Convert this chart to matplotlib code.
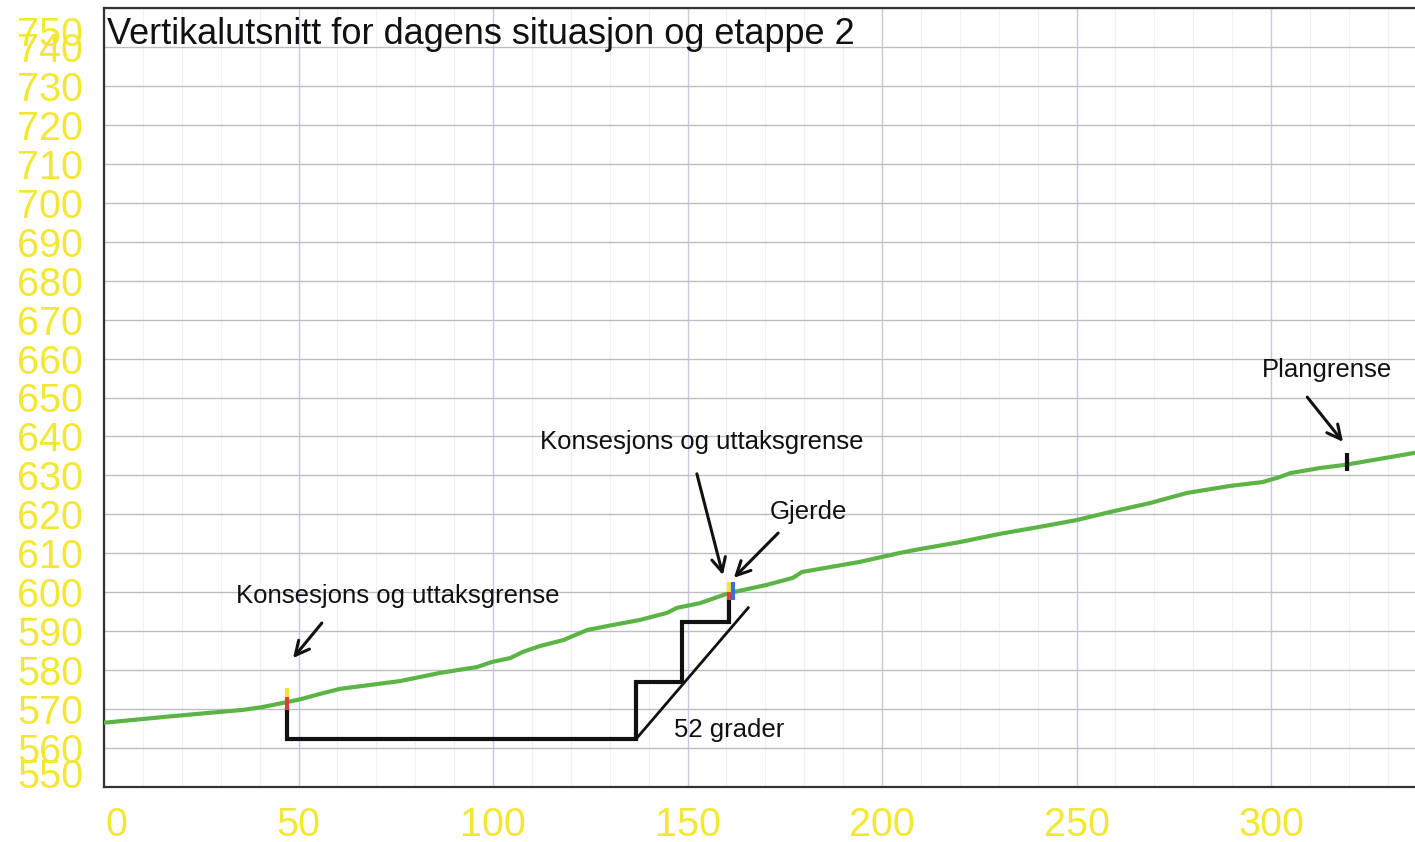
import matplotlib
matplotlib.use("Agg")
import matplotlib.pyplot as plt
from matplotlib.transforms import ScaledTranslation
from matplotlib.ticker import MultipleLocator

plt.rcParams['font.family'] = ['Liberation Sans', 'DejaVu Sans']

# ---- data ----
terrain_x = [0, 17.7, 35.7, 40.6, 47.0, 50.4, 55.5, 60.7, 76.1, 86.4, 95.9, 99.7,
             104.4, 107.7, 112.1, 118.0, 124.2, 130.8, 137.8, 144.7, 147.3, 153.2,
             160.7, 170.4, 177.1, 179.4, 194.3, 204.6, 209.8, 220.1, 230.3, 240.6,
             249.9, 258.6, 268.9, 278.4, 289.5, 297.9, 302.3, 305.0, 312.6, 319.0, 337.0]
terrain_y = [566.5, 568.2, 569.8, 570.5, 571.8, 572.5, 573.9, 575.2, 577.2, 579.3, 580.8, 582.1,
             583.1, 584.7, 586.2, 587.7, 590.3, 591.6, 592.9, 594.7, 596.0, 597.2,
             599.8, 601.9, 603.7, 605.2, 607.8, 610.1, 611.1, 612.9, 615.0, 616.8,
             618.5, 620.6, 622.9, 625.5, 627.3, 628.3, 629.6, 630.6, 631.9, 632.7, 635.8]

cut_x = [47.0, 47.0, 136.7, 136.7, 148.5, 148.5, 160.7, 160.7]
cut_y = [569.8, 562.3, 562.3, 577.0, 577.0, 592.3, 592.3, 598.0]

slope_x = [137.0, 165.6]
slope_y = [562.6, 596.0]

x_ticks = [0, 50, 100, 150, 200, 250, 300]
y_ticks = list(range(550, 751, 10))

title = "Vertikalutsnitt for dagens situasjon og etappe 2"

labels = ["Konsesjons og uttaksgrense", "Konsesjons og uttaksgrense", "Gjerde", "Plangrense"]
label_x = [33.9, 112.1, 171.2, 297.7]
label_y = [597.2, 636.8, 618.8, 655.3]
arrow_tail_x = [56.0, 152.4, 173.3, 309.3]
arrow_tail_y = [592.1, 630.4, 615.2, 650.1]
arrow_tip_x = [48.6, 159.1, 161.9, 318.5]
arrow_tip_y = [583.1, 604.4, 603.7, 638.6]

# marker segments: (x, y0, y1, color)
marks_x = [47.0, 47.0, 160.7, 160.7, 161.7, 319.5]
marks_y0 = [573.1, 569.8, 600.1, 598.0, 598.0, 631.1]
marks_y1 = [575.4, 573.1, 602.6, 600.1, 602.6, 635.8]
marks_c = ['#f5e72c', '#e23b3b', '#f5e72c', '#e23b3b', '#3b6fe0', '#111111']

# ---- figure ----
fig = plt.figure(figsize=(14.15, 8.42), dpi=100)
ax = fig.add_axes([104/1415, 1 - 787/842, 1 - 104/1415, (787 - 8)/842])
ax.set_xlim(0, 337)
ax.set_ylim(550, 750)

ax.xaxis.set_minor_locator(MultipleLocator(10))
ax.grid(which='minor', axis='x', color='#efeff6', lw=0.8)
ax.grid(which='major', axis='x', color='#c8c8e0', lw=1.0)
ax.grid(which='major', axis='y', color='#bdbdc6', lw=1.0)
ax.set_axisbelow(True)

for s in ['left', 'bottom', 'top']:
    ax.spines[s].set_color('#333333')
    ax.spines[s].set_linewidth(1.6)
ax.spines['right'].set_visible(False)

yellow = '#f2e833'
ax.set_xticks(x_ticks)
ax.set_xticklabels([str(v) for v in x_ticks])
ax.set_yticks(y_ticks)
ax.set_yticklabels([str(v) for v in y_ticks])
ax.tick_params(axis='both', which='both', length=0)
ax.tick_params(axis='x', pad=14, labelsize=28.5, labelcolor=yellow)
ax.tick_params(axis='y', pad=15, labelsize=28.5, labelcolor=yellow)

xl = ax.get_xticklabels()
xl[0].set_transform(xl[0].get_transform() + ScaledTranslation(12/100, 0, fig.dpi_scale_trans))
yl = ax.get_yticklabels()
yl[-1].set_transform(yl[-1].get_transform() + ScaledTranslation(0, -23/100, fig.dpi_scale_trans))
yl[0].set_transform(yl[0].get_transform() + ScaledTranslation(0, 14/100, fig.dpi_scale_trans))

# terrain
ax.plot(terrain_x, terrain_y, color='#5db446', lw=3, solid_capstyle='round', zorder=3)
# cut profile
ax.plot(cut_x, cut_y, color='#111111', lw=3, solid_joinstyle='miter', zorder=4)
ax.plot(slope_x, slope_y, color='#111111', lw=2, zorder=4)

for x, y0, y1, c in zip(marks_x, marks_y0, marks_y1, marks_c):
    ax.plot([x, x], [y0, y1], color=c, lw=3, solid_capstyle='butt', zorder=5)

ax.text(0.8, 740.8, title, fontsize=26, color='#111111', va='baseline', ha='left')

for t, lx, ly, tx, ty, hx, hy in zip(labels, label_x, label_y, arrow_tail_x, arrow_tail_y,
                                     arrow_tip_x, arrow_tip_y):
    ax.text(lx, ly, t, fontsize=18.5, color='#111111', va='baseline', ha='left')
    ax.annotate('', xy=(hx, hy), xytext=(tx, ty),
                arrowprops=dict(arrowstyle='->,head_length=1.0,head_width=0.5',
                                color='#111111', lw=2.2, shrinkA=0, shrinkB=0))

ax.text(146.5, 562.8, "52 grader", fontsize=18.5, color='#111111', va='baseline', ha='left')

fig.savefig('out.png', dpi=100)
